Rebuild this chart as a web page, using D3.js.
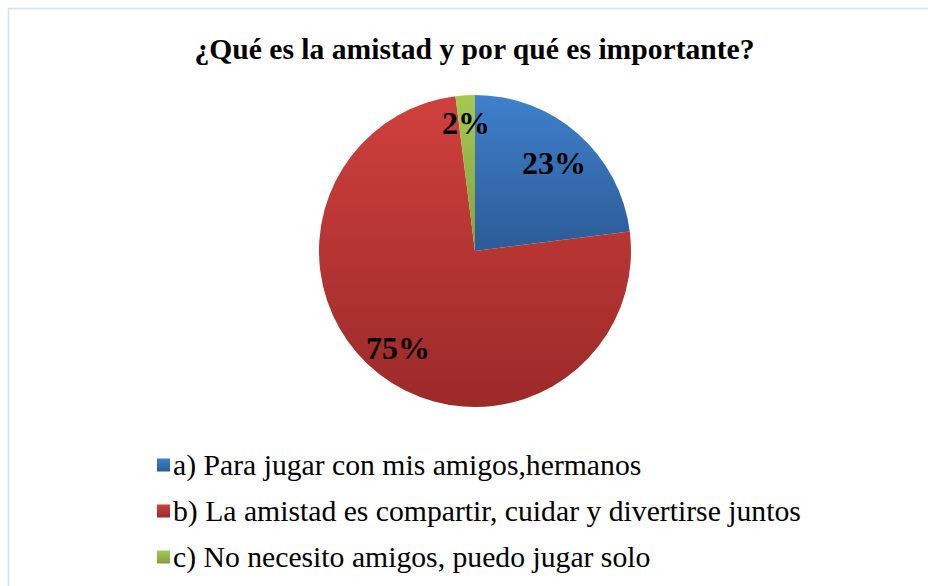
<!DOCTYPE html>
<html><head><meta charset="utf-8">
<script src="https://cdn.jsdelivr.net/npm/d3@7"></script>
<style>body{margin:0;background:#fff}svg{display:block}</style>
</head><body>
<svg id="c" width="928" height="586"></svg>
<script>
const title = "¿Qué es la amistad y por qué es importante?";
const categories = ["a) Para jugar con mis amigos,hermanos",
  "b) La amistad es compartir, cuidar y divertirse juntos",
  "c) No necesito amigos, puedo jugar solo"];
const values = [23, 75, 2];
const labels = ["23%", "75%", "2%"];
const colorsTop = ["#3f80cc", "#cf403d", "#a4c953"];
const colorsBottom = ["#2c5b96", "#9b2a29", "#82a03e"];

const svg = d3.select("#c");
const W = 928, H = 586;
svg.append("rect").attr("width", W).attr("height", H).attr("fill", "#fff");
svg.append("rect").attr("x", 8.5).attr("y", 8.5).attr("width", 960).attr("height", 640)
  .attr("fill", "#fff").attr("stroke", "#d3e1f2").attr("stroke-width", 1.5);

const defs = svg.append("defs");
categories.forEach((c, i) => {
  const g = defs.append("linearGradient").attr("id", "g" + i)
    .attr("x1", 0).attr("y1", 0).attr("x2", 0).attr("y2", 1);
  g.append("stop").attr("offset", "0%").attr("stop-color", colorsTop[i]);
  g.append("stop").attr("offset", "100%").attr("stop-color", colorsBottom[i]);
});

const FONT = "'Liberation Serif', 'Times New Roman', serif";

svg.append("text").attr("x", 474.5).attr("y", 58.5).attr("text-anchor", "middle")
  .attr("font-family", FONT)
  .attr("font-weight", "bold").attr("font-size", 29.6).attr("fill", "#000").text(title);

const cx = 475, cy = 251, r = 156;
const pie = d3.pie().sort(null).value(d => d)(values);
const arc = d3.arc().innerRadius(0).outerRadius(r);
const gp = svg.append("g").attr("transform", `translate(${cx},${cy})`);
gp.selectAll("path").data(pie).join("path")
  .attr("d", arc).attr("fill", (d, i) => `url(#g${i})`);

const labelPos = [[79, -77], [-77, 108], [-9, -117]];
gp.selectAll("text.lbl").data(pie).join("text").attr("class", "lbl")
  .attr("x", (d, i) => labelPos[i][0]).attr("y", (d, i) => labelPos[i][1])
  .attr("text-anchor", "middle")
  .attr("font-family", FONT)
  .attr("font-weight", "bold").attr("font-size", 32).attr("fill", "#000")
  .text((d, i) => labels[i]);

const leg = svg.append("g");
const rowY = d3.scalePoint().domain(categories).range([474.5, 566.5]);
categories.forEach((c, i) => {
  const y = rowY(c);
  leg.append("rect").attr("x", 157).attr("y", y - 16).attr("width", 13).attr("height", 13)
    .attr("fill", `url(#g${i})`);
  leg.append("text").attr("x", 173).attr("y", y)
    .attr("font-family", FONT)
    .attr("font-size", 29.7).attr("fill", "#000").text(c);
});
</script>
</body></html>
